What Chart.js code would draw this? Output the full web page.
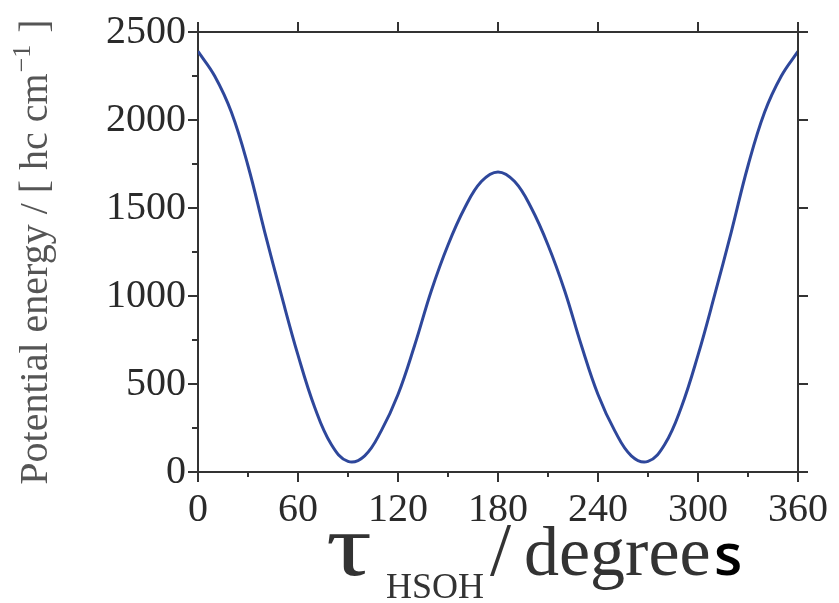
<!DOCTYPE html>
<html lang="en">
<head>
<meta charset="UTF-8">
<title>HSOH torsion potential</title>
<script src="https://cdn.jsdelivr.net/npm/chart.js@4.4.1/dist/chart.umd.min.js"></script>
<style>
  html, body { margin: 0; padding: 0; background: #fff; }
  #wrap { width: 839px; height: 603px; }
</style>
</head>
<body>
<div id="wrap"><canvas id="pes"></canvas></div>
<script>
// torsion angle (degrees) and potential energy (hc cm^-1)
const angles = [0, 10, 20, 30, 40, 50, 60, 70, 80, 90, 100, 110, 120, 130, 140, 150, 160, 170, 180,
                190, 200, 210, 220, 230, 240, 250, 260, 270, 280, 290, 300, 310, 320, 330, 340, 350, 360];
const energy = [2390, 2250, 2045, 1740, 1365, 1006, 664, 368, 156, 60, 92, 235, 440, 720, 1030, 1290, 1500, 1650, 1705,
                1650, 1500, 1290, 1030, 720, 440, 235, 92, 60, 156, 368, 664, 1006, 1365, 1740, 2045, 2250, 2390];
const xTicks = [0, 60, 120, 180, 240, 300, 360];
const xMinor = [30, 90, 150, 210, 270, 330];
const yTicks = [0, 500, 1000, 1500, 2000, 2500];
const yMinor = [250, 750, 1250, 1750, 2250];

const axisColor = '#333';
const serif = '"Liberation Serif", "Times New Roman", "DejaVu Serif", serif';

// minor ticks, top/right frame, axis titles
const decorations = {
  id: 'decorations',
  afterDraw(chart) {
    const ctx = chart.ctx;
    const a = chart.chartArea;
    const xs = chart.scales.x, ys = chart.scales.y;
    ctx.save();
    ctx.strokeStyle = axisColor;
    ctx.lineWidth = 2;
    ctx.beginPath();
    ctx.moveTo(a.left, a.top); ctx.lineTo(a.right, a.top);
    ctx.moveTo(a.right, a.top); ctx.lineTo(a.right, a.bottom);
    xMinor.forEach(v => { const p = xs.getPixelForValue(v); ctx.moveTo(p, a.bottom); ctx.lineTo(p, a.bottom + 5); });
    yMinor.forEach(v => { const p = ys.getPixelForValue(v); ctx.moveTo(a.left, p); ctx.lineTo(a.left - 6, p); });
    xTicks.forEach(v => { const p = xs.getPixelForValue(v); ctx.moveTo(p, a.top); ctx.lineTo(p, a.top - 10); });
    yTicks.forEach(v => { const p = ys.getPixelForValue(v); ctx.moveTo(a.right, p); ctx.lineTo(a.right + 10, p); });
    ctx.stroke();

    // y title
    ctx.fillStyle = '#555';
    ctx.textBaseline = 'alphabetic';
    ctx.textAlign = 'left';
    const main = 'Potential energy / [ hc cm';
    const sup = '\u22121';
    const tail = ' ]';
    ctx.font = '40px ' + serif;
    const wMain = ctx.measureText(main).width;
    const wTail = ctx.measureText(tail).width;
    ctx.font = '26px ' + serif;
    const wSup = ctx.measureText(sup).width;
    const total = wMain + wSup + wTail + 3;
    ctx.translate(47, (a.top + a.bottom) / 2);
    ctx.rotate(-Math.PI / 2);
    let x = -total / 2;
    ctx.font = '40px ' + serif;
    ctx.fillText(main, x, 0); x += wMain;
    ctx.font = '26px ' + serif;
    ctx.fillText(sup, x + 1, -17); x += wSup + 3;
    ctx.font = '40px ' + serif;
    ctx.fillText(tail, x, 0);
    ctx.restore();

    // x title
    ctx.save();
    ctx.textBaseline = 'alphabetic';
    ctx.textAlign = 'left';
    const base = 575;
    ctx.fillStyle = '#333';
    ctx.save();
    ctx.translate(326, base);
    ctx.scale(1.3, 1);
    ctx.font = '88px ' + serif;
    ctx.fillText('\u03c4', 0, 0);
    ctx.restore();
    ctx.font = '36px ' + serif;
    ctx.fillText('HSOH', 386, base + 23);
    ctx.font = '76px ' + serif;
    ctx.fillText('/', 490, base);
    ctx.font = '70px ' + serif;
    ctx.fillText('degree', 524, base);
    ctx.fillStyle = '#000';
    ctx.font = '600 58px "Open Sans", sans-serif';
    ctx.fillText('s', 714, base);
    ctx.restore();
  }
};

new Chart(document.getElementById('pes'), {
  type: 'line',
  data: {
    datasets: [{
      data: angles.map((a, i) => ({ x: a, y: energy[i] })),
      borderColor: '#2E479B',
      borderWidth: 3,
      pointRadius: 0,
      fill: false,
      tension: 0.4
    }]
  },
  options: {
    responsive: true,
    maintainAspectRatio: false,
    animation: false,
    layout: { padding: { top: 32, right: 41, left: 0, bottom: 0 } },
    plugins: { legend: { display: false }, tooltip: { enabled: false } },
    scales: {
      x: {
        type: 'linear',
        min: 0, max: 360,
        afterFit: s => { s.height = 131; },
        afterBuildTicks: s => { s.ticks = xTicks.map(v => ({ value: v })); },
        ticks: { color: '#2a2a2a', font: { family: serif, size: 40 }, padding: 4, maxRotation: 0,
                 callback: v => String(v) },
        grid: { drawOnChartArea: false, drawTicks: true, tickLength: 10, color: axisColor, lineWidth: 2 },
        border: { display: true, color: axisColor, width: 2 }
      },
      y: {
        min: 0, max: 2500,
        afterFit: s => { s.width = 198; },
        afterBuildTicks: s => { s.ticks = yTicks.map(v => ({ value: v })); },
        ticks: { color: '#2a2a2a', font: { family: serif, size: 40 }, padding: 2,
                 callback: v => String(v) },
        grid: { drawOnChartArea: false, drawTicks: true, tickLength: 10, color: axisColor, lineWidth: 2 },
        border: { display: true, color: axisColor, width: 2 }
      }
    }
  },
  plugins: [decorations]
});
</script>
</body>
</html>
